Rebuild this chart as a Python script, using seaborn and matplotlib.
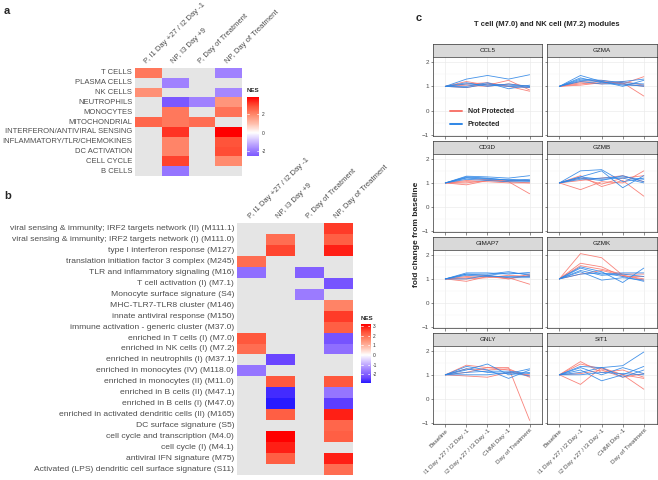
import numpy as np
import pandas as pd
import matplotlib
matplotlib.use('Agg')
import matplotlib.pyplot as plt
import seaborn as sns
from matplotlib.colors import LinearSegmentedColormap
from matplotlib.lines import Line2D

nan = np.nan

# ---- panel a: gene set groups ----
a_rows = ['T CELLS', 'PLASMA CELLS', 'NK CELLS', 'NEUTROPHILS', 'MONOCYTES', 'MITOCHONDRIAL',
          'INTERFERON/ANTIVIRAL SENSING', 'INFLAMMATORY/TLR/CHEMOKINES', 'DC ACTIVATION',
          'CELL CYCLE', 'B CELLS']
hm_cols = ['P, I1 Day +27 / I2 Day -1', 'NP, I3 Day +9', 'P, Day of Treatment', 'NP, Day of Treatment']
a_p_i1 = [2.2, nan, 1.8, nan, nan, 2.5, nan, nan, nan, nan, nan]
a_np_i3 = [nan, -1.8, nan, -2.5, 2.2, 2.2, 3.2, 2.0, 2.0, 3.0, -2.0]
a_p_dot = [nan, nan, nan, -1.8, nan, 2.4, nan, nan, nan, nan, nan]
a_np_dot = [-1.8, nan, -1.7, 1.7, 2.3, nan, 3.8, 2.8, 2.9, 1.9, nan]

# ---- panel b: modules ----
b_rows = ['viral sensing & immunity; IRF2 targets network (II) (M111.1)',
          'viral sensing & immunity; IRF2 targets network (I) (M111.0)',
          'type I interferon response (M127)',
          'translation initiation factor 3 complex (M245)',
          'TLR and inflammatory signaling (M16)',
          'T cell activation (I) (M7.1)',
          'Monocyte surface signature (S4)',
          'MHC-TLR7-TLR8 cluster (M146)',
          'innate antiviral response (M150)',
          'immune activation - generic cluster (M37.0)',
          'enriched in T cells (I) (M7.0)',
          'enriched in NK cells (I) (M7.2)',
          'enriched in neutrophils (I) (M37.1)',
          'enriched in monocytes (IV) (M118.0)',
          'enriched in monocytes (II) (M11.0)',
          'enriched in B cells (II) (M47.1)',
          'enriched in B cells (I) (M47.0)',
          'enriched in activated dendritic cells (II) (M165)',
          'DC surface signature (S5)',
          'cell cycle and transcription (M4.0)',
          'cell cycle (I) (M4.1)',
          'antiviral IFN signature (M75)',
          'Activated (LPS) dendritic cell surface signature (S11)']
b_p_i1 = [nan, nan, nan, 2.0, -1.8, nan, nan, nan, nan, nan, 2.3, 2.0,
          nan, -1.7, nan, nan, nan, nan, nan, nan, nan, nan, nan]
b_np_i3 = [nan, 2.0, 2.5, nan, nan, nan, nan, nan, nan, nan, nan, nan,
           -2.4, nan, 2.3, -2.7, -2.9, 2.2, nan, 3.2, 2.9, 2.2, nan]
b_p_dot = [nan, nan, nan, nan, -2.0, nan, -1.6, nan, nan, nan, nan, nan,
           nan, nan, nan, nan, nan, nan, nan, nan, nan, nan, nan]
b_np_dot = [2.6, 2.2, 2.9, nan, nan, -2.2, nan, 1.7, 2.6, 2.2, -2.2, -1.8,
            nan, nan, 2.3, -1.7, -2.5, 2.9, 2.1, 2.2, nan, 2.9, 2.0]

# ---- panel c: fold change per subject ----
timepoints = ['Baseline', 'I1 Day +27 / I2 Day -1', 'I2 Day +27 / I3 Day -1', 'CHMI Day -1', 'Day of Treatment']
genes = ['CCL5', 'GZMA', 'CD3D', 'GZMB', 'GIMAP7', 'GZMK', 'GNLY', 'SIT1']

ccl5_np = [[1, 1.2, 1.05, 1.25, 0.85], [1, 1.1, 1.15, 1.0, 0.8], [1, 1.05, 1.0, 1.1, 1.0], [1, 0.95, 1.1, 1.0, 0.95]]
ccl5_p = [[1, 1.3, 1.45, 1.3, 1.48], [1, 1.15, 1.0, 1.1, 1.0], [1, 1.0, 1.15, 0.9, 1.05],
          [1, 1.1, 1.05, 1.0, 0.95], [1, 0.95, 1.1, 1.05, 1.0]]
gzma_np = [[1, 1.1, 1.2, 1.15, 0.6], [1, 1.2, 1.25, 1.1, 1.4], [1, 1.15, 1.1, 1.2, 1.05], [1, 1.05, 1.15, 1.1, 1.0]]
gzma_p = [[1, 1.45, 1.2, 1.0, 1.25], [1, 1.3, 1.25, 1.15, 1.1], [1, 1.35, 1.15, 1.2, 1.3],
          [1, 1.2, 1.1, 1.1, 1.0], [1, 1.25, 1.2, 1.05, 1.05]]
cd3d_np = [[1, 0.92, 1.1, 1.05, 0.55], [1, 1.1, 1.15, 1.05, 1.0], [1, 1.0, 1.1, 1.1, 1.1], [1, 1.05, 1.05, 1.0, 1.0]]
cd3d_p = [[1, 1.28, 1.25, 1.2, 1.3], [1, 1.25, 1.2, 1.1, 1.15], [1, 1.2, 1.15, 1.15, 1.1],
          [1, 1.15, 1.1, 1.05, 1.05], [1, 1.22, 1.18, 1.12, 1.08]]
gzmb_np = [[1, 0.72, 1.05, 1.0, 1.5], [1, 1.3, 0.85, 1.1, 0.45], [1, 1.1, 1.2, 1.3, 1.05], [1, 1.2, 0.95, 1.2, 1.3]]
gzmb_p = [[1, 1.5, 1.55, 1.05, 1.2], [1, 1.25, 1.5, 0.8, 1.3], [1, 1.2, 1.1, 1.3, 1.05],
          [1, 1.15, 1.2, 1.25, 1.15], [1, 1.25, 1.15, 1.2, 1.0]]
gimap7_np = [[1, 0.9, 1.1, 1.05, 0.78], [1, 1.05, 1.1, 1.0, 1.15], [1, 1.0, 1.05, 1.15, 1.1], [1, 1.1, 1.15, 1.0, 1.2]]
gimap7_p = [[1, 1.25, 1.25, 1.2, 1.27], [1, 1.2, 1.2, 1.3, 1.15], [1, 1.15, 1.1, 1.1, 1.1],
            [1, 1.0, 1.15, 1.05, 1.05], [1, 1.2, 1.15, 1.25, 1.2]]
gzmk_np = [[1, 2.05, 1.88, 1.15, 1.0], [1, 1.65, 1.5, 1.1, 1.1], [1, 1.55, 1.4, 1.2, 1.2], [1, 1.2, 1.35, 1.15, 0.95]]
gzmk_p = [[1, 1.5, 1.3, 0.85, 1.45], [1, 1.45, 1.2, 1.25, 1.25], [1, 1.35, 1.15, 1.2, 1.1],
          [1, 1.3, 0.95, 1.05, 0.95], [1, 1.2, 1.25, 1.1, 0.9]]
gnly_np = [[1, 1.4, 1.3, 1.3, -0.9], [1, 0.95, 0.9, 1.1, 1.0], [1, 1.25, 1.2, 1.25, 0.9], [1, 1.1, 1.3, 1.2, 0.95]]
gnly_p = [[1, 1.35, 1.2, 0.85, 1.2], [1, 1.2, 1.45, 1.0, 1.1], [1, 1.1, 1.15, 1.15, 1.05],
          [1, 1.25, 1.1, 1.05, 1.25], [1, 1.0, 1.0, 1.1, 0.95]]
sit1_np = [[1, 0.6, 1.3, 1.0, 0.4], [1, 1.55, 1.1, 1.2, 0.9], [1, 1.05, 1.2, 0.9, 1.05], [1, 1.45, 1.25, 1.0, 0.85]]
sit1_p = [[1, 1.35, 1.3, 1.38, 1.95], [1, 1.2, 0.75, 1.0, 1.35], [1, 1.1, 1.3, 0.9, 1.2],
          [1, 1.3, 1.0, 1.3, 1.05], [1, 1.0, 1.1, 1.05, 1.0]]

gene_np = [ccl5_np, gzma_np, cd3d_np, gzmb_np, gimap7_np, gzmk_np, gnly_np, sit1_np]
gene_p = [ccl5_p, gzma_p, cd3d_p, gzmb_p, gimap7_p, gzmk_p, gnly_p, sit1_p]

RED = '#F8766D'
BLUE = '#2F86E6'
TXT = '#4D4D4D'

sns.set_theme(style='white')
plt.rcParams['font.family'] = ['Liberation Sans', 'DejaVu Sans']

W, H = 658, 480
fig = plt.figure(figsize=(W / 100, H / 100), dpi=100)


def px(l, t, r, b):
    return [l / W, 1 - b / H, (r - l) / W, (b - t) / H]


nes_cmap = LinearSegmentedColormap.from_list('nes', [
    (0.0, '#0000FF'), (0.125, '#6A45FF'), (0.25, '#9B7BFF'), (0.375, '#CDB9FF'),
    (0.5, '#FFFFFF'), (0.625, '#FFC0AE'), (0.75, '#FF8B6E'), (0.875, '#FF5238'), (1.0, '#FF0000')])


def draw_heat(rect, df, lim, fs_row, fs_col):
    ax = fig.add_axes(px(*rect))
    sns.heatmap(df, ax=ax, cmap=nes_cmap, vmin=-lim, vmax=lim, cbar=False)
    ax.set_facecolor('#E5E5E5')
    ax.xaxis.tick_top()
    ax.set_xticks(np.arange(len(df.columns)) + 0.5)
    ax.set_xticklabels(df.columns, rotation=45, ha='left', rotation_mode='anchor', fontsize=fs_col, color=TXT)
    ax.set_yticks(np.arange(len(df.index)) + 0.5)
    ax.set_yticklabels(df.index, rotation=0, fontsize=fs_row, color=TXT)
    ax.tick_params(length=0, pad=2)
    ax.set_xlabel('')
    ax.set_ylabel('')
    return ax


def draw_cbar(rect, lo, hi, lim, ticks):
    cax = fig.add_axes(px(*rect))
    grad = np.linspace(lo, hi, 200)[:, None]
    cax.imshow(grad, aspect='auto', origin='lower', extent=[0, 1, lo, hi],
               cmap=nes_cmap, vmin=-lim, vmax=lim)
    for t in ticks:
        cax.plot([0, 0.2], [t, t], color='white', lw=0.5)
        cax.plot([0.8, 1], [t, t], color='white', lw=0.5)
    cax.set_xlim(0, 1)
    cax.set_ylim(lo, hi)
    cax.set_xticks([])
    cax.yaxis.tick_right()
    cax.set_yticks(ticks)
    cax.set_yticklabels([str(t) for t in ticks])
    cax.tick_params(axis='y', length=0, labelsize=3.5, pad=2, colors='#333333')
    for s in cax.spines.values():
        s.set_visible(False)
    fig.text(rect[0] / W, 1 - (rect[1] - 6) / H, 'NES', fontsize=4.5, fontweight='bold', va='center')


df_a = pd.DataFrame({hm_cols[0]: a_p_i1, hm_cols[1]: a_np_i3, hm_cols[2]: a_p_dot, hm_cols[3]: a_np_dot},
                    index=a_rows)
df_b = pd.DataFrame({hm_cols[0]: b_p_i1, hm_cols[1]: b_np_i3, hm_cols[2]: b_p_dot, hm_cols[3]: b_np_dot},
                    index=b_rows)

draw_heat((135, 68, 242, 176), df_a, 3.8, 5.5, 5.5)
draw_cbar((247, 97, 259, 156), -2.55, 3.9, 3.9, [-2, 0, 2])

draw_heat((237, 223, 353, 475), df_b, 3.2, 6.1, 5.5)
draw_cbar((361, 324, 370, 383), -2.9, 3.2, 3.2, [-2, -1, 0, 1, 2, 3])

fig.text(4 / W, 1 - 11 / H, 'a', fontsize=8, fontweight='bold', va='center')
fig.text(4 / W, 1 - 196 / H, 'b', fontsize=8, fontweight='bold', va='center')
fig.text(416 / W, 1 - 18 / H, 'c', fontsize=8, fontweight='bold', va='center')

# ---- panel c: faceted line plots ----
records = []
for g, nps, ps in zip(genes, gene_np, gene_p):
    for i, ser in enumerate(nps):
        for t, v in enumerate(ser):
            records.append((g, 'Not Protected', f'{g}_np{i}', t, v))
    for i, ser in enumerate(ps):
        for t, v in enumerate(ser):
            records.append((g, 'Protected', f'{g}_p{i}', t, v))
df_c = pd.DataFrame(records, columns=['gene', 'group', 'subject', 'tp', 'fc'])

col_x = [(432.7, 542.3), (546.7, 656.5)]
strip_tops = [44, 140.7, 236.7, 332.7]
panel_bots = [136, 232.3, 328.3, 424]
strip_h = 13.3

for k, g in enumerate(genes):
    r, c = divmod(k, 2)
    l, rr = col_x[c]
    st = strip_tops[r]
    sax = fig.add_axes(px(l, st, rr, st + strip_h))
    sax.set_facecolor('#D9D9D9')
    sax.set_xticks([])
    sax.set_yticks([])
    for s in sax.spines.values():
        s.set_color('#333333')
        s.set_linewidth(0.5)
    sax.text(0.5, 0.5, g, ha='center', va='center', fontsize=4.5, color='#1A1A1A', transform=sax.transAxes)

    ax = fig.add_axes(px(l, st + strip_h, rr, panel_bots[r]))
    ax.set_facecolor('white')
    ax.set_axisbelow(True)
    ax.set_xticks(range(5))
    ax.set_yticks([-1, 0, 1, 2])
    ax.set_yticks([-0.5, 0.5, 1.5], minor=True)
    ax.grid(True, which='major', color='#EBEBEB', lw=0.5)
    ax.grid(True, which='minor', axis='y', color='#F4F4F4', lw=0.3)
    sub = df_c[df_c['gene'] == g]
    sns.lineplot(data=sub, x='tp', y='fc', hue='group', units='subject', estimator=None,
                 palette={'Not Protected': RED, 'Protected': BLUE}, lw=0.6, alpha=0.9,
                 legend=False, ax=ax)
    ax.set_xlim(-0.6, 4.6)
    ax.set_ylim(-1.05, 2.2)
    ax.set_xlabel('')
    ax.set_ylabel('')
    for s in ax.spines.values():
        s.set_visible(True)
        s.set_color('#333333')
        s.set_linewidth(0.5)
    ax.tick_params(axis='both', which='major', length=1.8, width=0.4, color='#333333',
                   labelsize=4.5, labelcolor=TXT, pad=1, bottom=True, left=True)
    ax.tick_params(which='minor', length=0)
    if c == 1:
        ax.set_yticklabels([])
    if r < 3:
        ax.set_xticklabels([])
    else:
        ax.set_xticklabels(timepoints, rotation=45, ha='right', rotation_mode='anchor')
    if k == 0:
        handles = [Line2D([], [], color=RED, lw=1.4), Line2D([], [], color=BLUE, lw=1.4)]
        ax.legend(handles, ['Not Protected', 'Protected'], loc='upper left',
                  bbox_to_anchor=(0.1, 0.43), frameon=False, handlelength=1.8,
                  labelspacing=0.85, handletextpad=0.8,
                  prop={'weight': 'bold', 'size': 5})

fig.text(547 / W, 1 - 24 / H, 'T cell (M7.0) and NK cell (M7.2) modules', fontsize=5.5,
         fontweight='bold', ha='center', va='center')
fig.text(416 / W, 1 - 234 / H, 'fold change from baseline', fontsize=6, fontweight='bold',
         rotation=90, ha='center', va='center')

fig.savefig('out.png', dpi=100)
